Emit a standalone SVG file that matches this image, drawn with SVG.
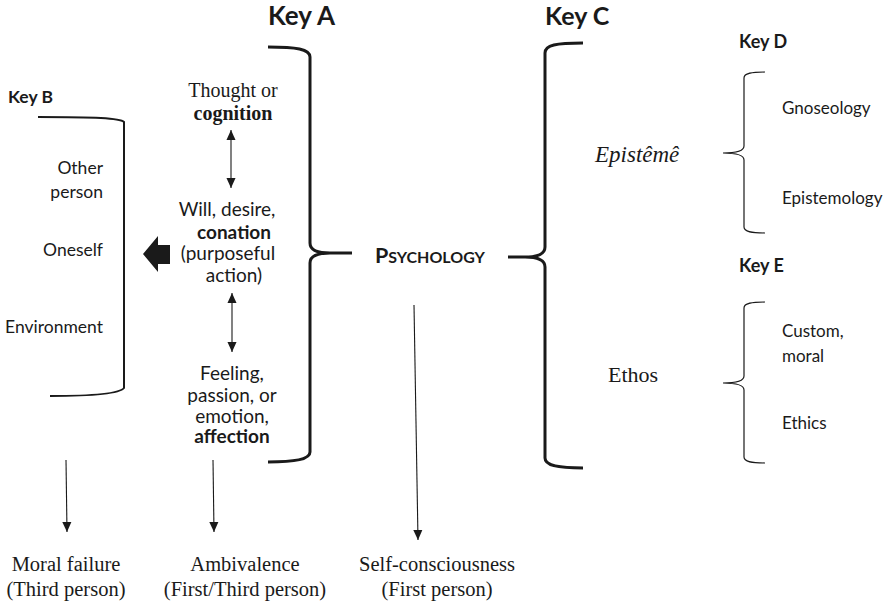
<svg xmlns="http://www.w3.org/2000/svg" width="890" height="604" viewBox="0 0 890 604">
  <style>
    .sans { font-family: Lato, "Liberation Sans", sans-serif; fill: #1a1a1a; }
    .serif { font-family: "Liberation Serif", "DejaVu Serif", serif; fill: #1a1a1a; }
    .key { font-family: Lato, "Liberation Sans", sans-serif; font-weight: bold; fill: #1a1a1a; }
    .brace-thick { fill: none; stroke: #1a1a1a; stroke-width: 3; stroke-linecap: butt; }
    .brace-thin { fill: none; stroke: #1a1a1a; stroke-width: 1.2; }
    .arrow { fill: none; stroke: #1a1a1a; stroke-width: 1.1; }
  </style>
  <defs>
    <marker id="head" markerUnits="userSpaceOnUse" markerWidth="10" markerHeight="12" refX="11" refY="5" orient="auto-start-reverse" viewBox="0 0 11 10">
      <path d="M0,0 L11,5 L0,10 Z" fill="#1a1a1a"/>
    </marker>
  </defs>

  <rect width="890" height="604" fill="#ffffff"/>

  <!-- Key A: faculties of the mind -->
  <g id="key-a">
    <text class="key" x="268" y="25" font-size="26">Key A</text>
    <path class="brace-thick" d="M268,47 C296,47 310,49 310,57 L310,243 C310,250 318,253 330,253 L352,253 M330,253 C318,253 310,256 310,263 L310,452 C310,459 296,462 268,462"/>
    <text class="serif" x="233" y="97" font-size="20" text-anchor="middle">Thought or</text>
    <text class="serif" x="233" y="120" font-size="20" font-weight="bold" text-anchor="middle">cognition</text>
    <text class="sans" x="227" y="216" font-size="19" text-anchor="middle">Will, desire,</text>
    <text class="sans" x="234" y="239" font-size="19" font-weight="bold" text-anchor="middle">conation</text>
    <text class="sans" x="228" y="260" font-size="19" text-anchor="middle">(purposeful</text>
    <text class="sans" x="234" y="282" font-size="19" text-anchor="middle">action)</text>
    <text class="sans" x="232" y="380" font-size="19" text-anchor="middle">Feeling,</text>
    <text class="sans" x="232" y="402" font-size="19" text-anchor="middle">passion, or</text>
    <text class="sans" x="232" y="423" font-size="19" text-anchor="middle">emotion,</text>
    <text class="sans" x="232" y="443" font-size="19" font-weight="bold" text-anchor="middle">affection</text>
  </g>

  <!-- Key B: objects of action -->
  <g id="key-b">
    <text class="key" x="8" y="103" font-size="17.5">Key B</text>
    <path class="brace-thick" style="stroke-width:2" d="M38,117 C95,117 120,118 124,122 L124,388 C120,393 100,396 50,396"/>
    <text class="sans" x="103" y="174" font-size="17.5" text-anchor="end">Other</text>
    <text class="sans" x="103" y="198" font-size="17.5" text-anchor="end">person</text>
    <text class="sans" x="103" y="256" font-size="17.5" text-anchor="end">Oneself</text>
    <text class="sans" x="103" y="333" font-size="17.5" text-anchor="end">Environment</text>
  </g>

  <!-- Psychology -->
  <g id="psychology">
    <text class="key" x="375" y="263" font-size="21.5">P<tspan font-size="16">SYCHOLOGY</tspan></text>
  </g>

  <!-- Key C -->
  <g id="key-c">
    <text class="key" x="545" y="25" font-size="25">Key C</text>
    <path class="brace-thick" d="M583,43 C556,43 545,45 545,53 L545,247 C545,254 537,257 525,257 L508,257 M525,257 C537,257 545,260 545,267 L545,458 C545,465 556,468 583,468"/>
    <text class="serif" x="595" y="162" font-size="23" font-style="italic">Epistêmê</text>
    <text class="serif" x="608" y="382" font-size="22">Ethos</text>
  </g>

  <!-- Key D -->
  <g id="key-d">
    <text class="key" x="739" y="48" font-size="18">Key D</text>
    <path class="brace-thin" d="M765,72 C752,72 744,73 744,78 L744,146 C744,151 737,153 723,153 C737,153 744,155 744,160 L744,227 C744,232 752,233 765,233"/>
    <text class="sans" x="782" y="114" font-size="17">Gnoseology</text>
    <text class="sans" x="782" y="204" font-size="17">Epistemology</text>
  </g>

  <!-- Key E -->
  <g id="key-e">
    <text class="key" x="739" y="272" font-size="18">Key E</text>
    <path class="brace-thin" d="M765,302 C752,302 744,303 744,308 L744,376 C744,381 737,383 723,383 C737,383 744,385 744,390 L744,457 C744,462 752,463 765,463"/>
    <text class="sans" x="782" y="337" font-size="17">Custom,</text>
    <text class="sans" x="782" y="362" font-size="17">moral</text>
    <text class="sans" x="782" y="429" font-size="17">Ethics</text>
  </g>

  <!-- Outcomes -->
  <g id="moral-failure">
    <text class="serif" x="66" y="571" font-size="20.5" text-anchor="middle">Moral failure</text>
    <text class="serif" x="66" y="596" font-size="20.5" text-anchor="middle">(Third person)</text>
  </g>
  <g id="ambivalence">
    <text class="serif" x="245" y="571" font-size="20.5" text-anchor="middle">Ambivalence</text>
    <text class="serif" x="245" y="596" font-size="20.5" text-anchor="middle">(First/Third person)</text>
  </g>
  <g id="self-consciousness">
    <text class="serif" x="437" y="571" font-size="20.5" text-anchor="middle">Self-consciousness</text>
    <text class="serif" x="437" y="596" font-size="20.5" text-anchor="middle">(First person)</text>
  </g>

  <!-- Connectors -->
  <g id="connectors">
    <line class="arrow" x1="231" y1="130" x2="231" y2="188" marker-start="url(#head)" marker-end="url(#head)"/>
    <line class="arrow" x1="232" y1="293" x2="232" y2="352" marker-start="url(#head)" marker-end="url(#head)"/>
    <path d="M143,254 L158,236 L158,245 L170,245 L170,264 L158,264 L158,272 Z" fill="#1a1a1a"/>
    <line class="arrow" x1="66" y1="460" x2="67" y2="532" marker-end="url(#head)"/>
    <line class="arrow" x1="213" y1="460" x2="214" y2="532" marker-end="url(#head)"/>
    <line class="arrow" x1="414" y1="305" x2="418" y2="540" marker-end="url(#head)"/>
  </g>
</svg>
